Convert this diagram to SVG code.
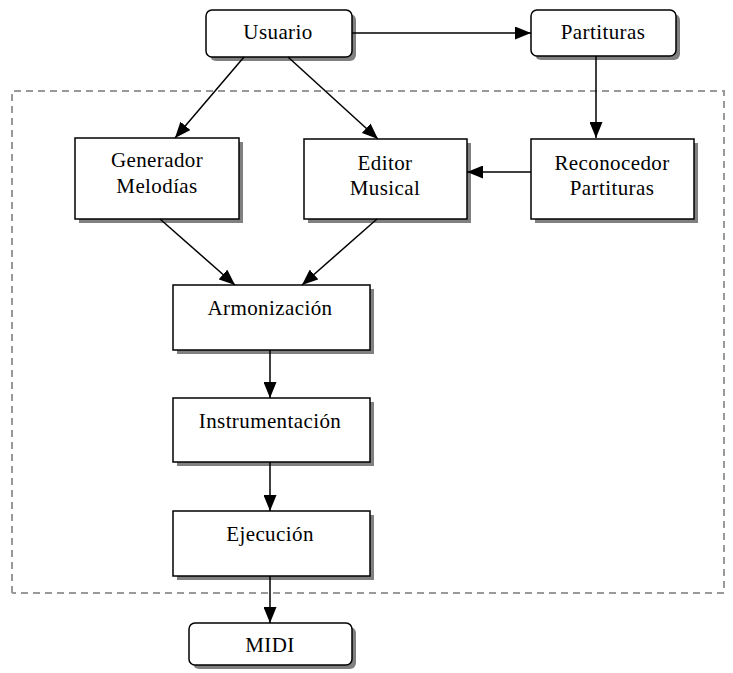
<svg xmlns="http://www.w3.org/2000/svg" width="733" height="673" viewBox="0 0 733 673">
<style>
.box{fill:#fff;stroke:#000;stroke-width:1.5}
.sh{fill:#808080}
.t{font-family:"Liberation Serif","Times New Roman",serif;font-size:21px;letter-spacing:0.4px;fill:#000;text-anchor:middle}
.c{stroke:#000;stroke-width:1.5;fill:none;marker-end:url(#ah)}
</style>
<defs>
<marker id="ah" viewBox="0 0 16 13" refX="16" refY="6.5" markerWidth="16" markerHeight="13" markerUnits="userSpaceOnUse" orient="auto">
<path d="M0,0 L16,6.5 L0,13 Z" fill="#000"/>
</marker>
</defs>
<rect width="733" height="673" fill="#fff"/>
<path d="M12,593 V91 H724 V593 H12" fill="none" stroke="#999" stroke-width="2" stroke-dasharray="7,5"/>
<g id="usuario"><rect class="sh" x="210" y="14" width="146" height="47" rx="6"/><rect class="box" x="206" y="10" width="146" height="47" rx="6"/><text class="t" x="278" y="39">Usuario</text></g>
<g id="partituras"><rect class="sh" x="535" y="14" width="145" height="46" rx="6"/><rect class="box" x="531" y="10" width="145" height="46" rx="6"/><text class="t" x="603" y="39">Partituras</text></g>
<g id="generador"><rect class="sh" x="79" y="142" width="164" height="81"/><rect class="box" x="75" y="138" width="164" height="81"/><text class="t" x="157" y="167">Generador</text><text class="t" x="157" y="193">Melodías</text></g>
<g id="editor"><rect class="sh" x="308" y="143" width="163" height="80"/><rect class="box" x="304" y="139" width="163" height="80"/><text class="t" x="385" y="170">Editor</text><text class="t" x="385" y="195">Musical</text></g>
<g id="reconocedor"><rect class="sh" x="535" y="143" width="163" height="80"/><rect class="box" x="531" y="139" width="163" height="80"/><text class="t" x="612" y="170">Reconocedor</text><text class="t" x="612" y="195">Partituras</text></g>
<g id="armonizacion"><rect class="sh" x="177" y="289" width="197" height="65"/><rect class="box" x="173" y="285" width="197" height="65"/><text class="t" x="270" y="315">Armonización</text></g>
<g id="instrumentacion"><rect class="sh" x="177" y="402" width="197" height="64"/><rect class="box" x="173" y="398" width="197" height="64"/><text class="t" x="270" y="428">Instrumentación</text></g>
<g id="ejecucion"><rect class="sh" x="177" y="515" width="197" height="65"/><rect class="box" x="173" y="511" width="197" height="65"/><text class="t" x="270" y="541">Ejecución</text></g>
<g id="midi"><rect class="sh" x="193" y="627" width="163" height="42" rx="6"/><rect class="box" x="189" y="623" width="163" height="42" rx="6"/><text class="t" x="270" y="652">MIDI</text></g>
<g id="connectors">
<line class="c" x1="352" y1="33" x2="531" y2="33"/>
<line class="c" x1="596" y1="56" x2="596" y2="138"/>
<line class="c" x1="244" y1="57" x2="175" y2="138"/>
<line class="c" x1="288" y1="57" x2="378" y2="139"/>
<line class="c" x1="531" y1="172" x2="467" y2="172"/>
<line class="c" x1="160" y1="219" x2="235" y2="285"/>
<line class="c" x1="377" y1="219" x2="302" y2="285"/>
<line class="c" x1="270" y1="350" x2="270" y2="398"/>
<line class="c" x1="270" y1="462" x2="270" y2="511"/>
<line class="c" x1="270" y1="576" x2="270" y2="623"/>
</g>
</svg>
